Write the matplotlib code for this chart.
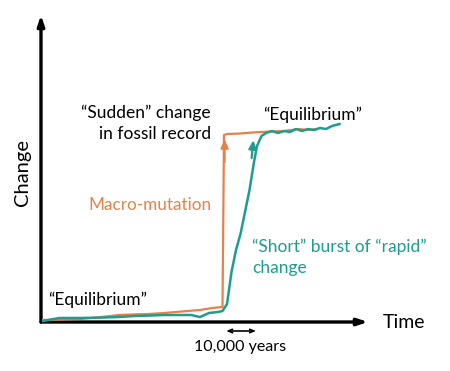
import matplotlib.pyplot as plt

plt.rcParams['font.family'] = ['Lato', 'DejaVu Sans']

# time in thousands of years from the start, change in arbitrary units
macro_time = [0.7, 6, 13, 20, 26, 31, 36, 41, 45, 49, 53, 57, 60.5, 61.0, 62, 66, 71, 76, 81, 86, 89, 92]
macro_change = [1, 1.2, 1.5, 2.5, 3.5, 3.8, 4, 4.5, 5, 5.5, 6, 7, 7.5, 93.5, 94, 94.2, 94.8, 95.2, 95.5, 96.5, 96, 96.5]

burst_time = [0.7, 6, 13, 20, 26, 31, 36, 41, 45, 50, 53, 56, 59, 60.5, 62, 63.5, 65, 66.5, 68, 69.5, 71, 72, 73.5, 75,
              77, 79, 81, 83, 85, 87, 89, 91, 93, 95, 97, 99.5]
burst_change = [0.5, 2, 2, 2.2, 2.5, 3, 3.2, 3.5, 3.5, 3.5, 2.5, 4.5, 5, 5.5, 9, 25, 36, 44, 55, 66, 80, 88, 93, 94.5,
                95.5, 94.5, 95.5, 95, 96.5, 95.5, 96.5, 96, 97, 96.5, 98, 99]

orange = '#E3834A'
teal = '#1E9C8F'

fig = plt.figure(figsize=(4.5, 3.71), dpi=100)
ax = fig.add_axes([0, 0, 1, 1])
# 3 px per kyr, 2 px per change unit, origin at (41, 322) px
ax.set_xlim(-41 / 3, (450 - 41) / 3)
ax.set_ylim(-(371 - 322) / 2, 322 / 2)
ax.axis('off')

# axes arrows
ax.annotate('', xy=(0, 153.5), xytext=(0, 0),
            arrowprops=dict(arrowstyle='-|>,head_length=0.6,head_width=0.2', lw=2.4, color='black', shrinkA=0, shrinkB=0))
ax.annotate('', xy=(109, 0), xytext=(0, 0),
            arrowprops=dict(arrowstyle='-|>,head_length=0.6,head_width=0.2', lw=2.4, color='black', shrinkA=0, shrinkB=0))

ax.plot(macro_time, macro_change, color=orange, lw=1.6, zorder=3)
ax.plot(burst_time, burst_change, color=teal, lw=1.8, zorder=4)

# arrowheads on the rising parts
ax.annotate('', xy=(61.2, 91.5), xytext=(61.2, 80),
            arrowprops=dict(arrowstyle='-|>,head_length=0.5,head_width=0.22', lw=1.6, color=orange, shrinkA=0, shrinkB=0))
ax.annotate('', xy=(70.8, 91), xytext=(70.2, 82),
            arrowprops=dict(arrowstyle='-|>,head_length=0.5,head_width=0.22', lw=1.6, color=teal, shrinkA=0, shrinkB=0))

# 10,000 years scale bar
ax.annotate('', xy=(71.7, -4.5), xytext=(61.7, -4.5),
            arrowprops=dict(arrowstyle='<->,head_length=0.3,head_width=0.12', lw=1.2, color='black', shrinkA=0, shrinkB=0))
ax.text(66.3, -12.5, '10,000 years', ha='center', va='center', fontsize=11.5)

ax.text(-6.3, 74.5, 'Change', rotation=90, ha='center', va='center', fontsize=14.5)
ax.text(114, 0, 'Time', ha='left', va='center', fontsize=14)

ax.text(56.7, 99.5, '\u201cSudden\u201d change\nin fossil record', ha='right', va='center',
        fontsize=12.5, linespacing=1.4)
ax.text(56.7, 58.5, 'Macro-mutation', ha='right', va='center', fontsize=12.3, color=orange)
ax.text(74, 103.5, '\u201cEquilibrium\u201d', ha='left', va='center', fontsize=12.5)
ax.text(2.3, 11, '\u201cEquilibrium\u201d', ha='left', va='center', fontsize=12.5)
ax.text(70.3, 32.5, '\u201cShort\u201d burst of \u201crapid\u201d\nchange', ha='left', va='center',
        fontsize=12.5, color=teal, linespacing=1.4)

fig.savefig('out.png', dpi=100)
